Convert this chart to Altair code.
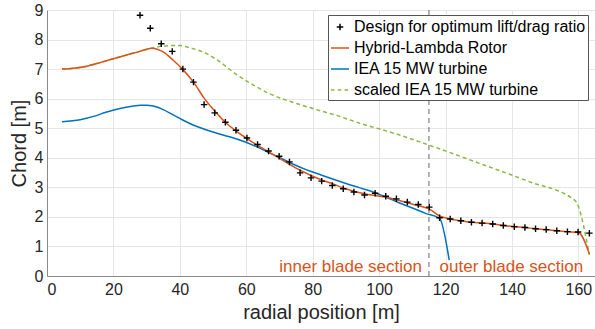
import altair as alt
import pandas as pd

FONT = "Liberation Sans"

# ---- series names / colours ----
series_names = [
    "Design for optimum lift/drag ratio",
    "Hybrid-Lambda Rotor",
    "IEA 15 MW turbine",
    "scaled IEA 15 MW turbine",
]
series_colors = ["#000000", "#D95319", "#0072BD", "#8DB843"]
series_shapes = [
    "M-0.36,0H0.36M0,-0.36V0.36",
    "M-1,0H1",
    "M-1,0H1",
    "M-1,0H-0.6M-0.25,0H0.15M0.5,0H0.9",
]

# ---- design points (crosses) ----
points_x = [28.0, 31.1, 34.4, 37.7, 40.9, 44.1, 47.3, 50.5, 53.7, 56.9, 60.2, 63.4, 66.7,
            69.9, 73.0, 76.2, 79.5, 82.7, 85.9, 89.2, 92.4, 95.6, 98.8, 102.0, 105.2,
            108.5, 111.8, 115.1, 118.2, 121.4, 124.6, 127.8, 131.0, 134.2, 137.4, 140.7,
            143.9, 147.1, 150.3, 153.5, 156.7, 159.9, 163.3]
points_y = [8.82, 8.38, 7.86, 7.6, 7.0, 6.56, 5.8, 5.52, 5.2, 4.93, 4.67, 4.45, 4.23,
            4.05, 3.86, 3.49, 3.32, 3.21, 3.06, 2.95, 2.84, 2.74, 2.80, 2.70, 2.61,
            2.5, 2.42, 2.33, 1.97, 1.93, 1.87, 1.82, 1.79, 1.76, 1.71, 1.67,
            1.64, 1.6, 1.57, 1.53, 1.5, 1.49, 1.45]

# ---- Hybrid-Lambda rotor ----
hl_x = [4.5, 8, 12, 16, 20, 24, 28, 31.5, 35, 38, 40.8, 44.1, 47.3, 50.5, 53.7, 57, 60.2,
        63.4, 66.7, 70, 73, 76.2, 79.5, 82.7, 86, 89.2, 92.4, 95.6, 98.8, 102, 105.2,
        108.5, 111.8, 115, 118.2, 121.4, 124.6, 127.8, 131, 134.2, 137.4, 140.7, 143.9,
        147.1, 150.3, 153.5, 156.7, 160, 163.3]
hl_y = [7.0, 7.03, 7.1, 7.22, 7.35, 7.48, 7.6, 7.71, 7.58, 7.3, 7.0, 6.56, 6.02, 5.58,
        5.2, 4.9, 4.65, 4.42, 4.2, 3.98, 3.78, 3.58, 3.4, 3.25, 3.12, 2.98, 2.87, 2.78,
        2.72, 2.67, 2.58, 2.48, 2.38, 2.27, 2.03, 1.93, 1.87, 1.82, 1.79, 1.76, 1.71,
        1.67, 1.64, 1.6, 1.57, 1.53, 1.5, 1.47, 0.75]

# ---- IEA 15 MW turbine ----
iea_x = [4.5, 10, 14, 18, 22, 26, 28, 30, 32, 35, 38, 41, 44, 47, 50, 54, 58, 62, 66, 70,
         74, 78, 82, 86, 90, 94, 98, 102, 106, 110, 114, 118.2, 121.1]
iea_y = [5.22, 5.29, 5.4, 5.55, 5.67, 5.75, 5.78, 5.78, 5.75, 5.63, 5.45, 5.27, 5.11,
         4.98, 4.87, 4.74, 4.6, 4.43, 4.22, 4.01, 3.79, 3.6, 3.44, 3.28, 3.13, 2.99,
         2.85, 2.67, 2.48, 2.3, 2.12, 1.95, 0.54]

# ---- scaled IEA 15 MW turbine ----
sc_x = [4.5, 8, 12, 16, 20, 24, 28, 31.5, 35, 38, 40, 43, 47, 52, 57, 62, 67, 72, 77, 82,
        87, 92, 97, 100, 115, 130, 145, 159, 163.3]
sc_y = [7.0, 7.03, 7.1, 7.22, 7.35, 7.48, 7.6, 7.71, 7.78, 7.8, 7.8, 7.72, 7.58, 7.25,
        6.82, 6.47, 6.17, 5.95, 5.77, 5.6, 5.44, 5.25, 5.07, 4.98, 4.43, 3.82, 3.2,
        2.55, 0.71]

# ---- section divider / annotations ----
divider_x = [115]
ann_inner = {"x": [112.9], "y": [0.12], "label": ["inner blade section"]}
ann_outer = {"x": [118.2], "y": [0.12], "label": ["outer blade section"]}

x_ticks = [0, 20, 40, 60, 80, 100, 120, 140, 160]
y_ticks = [0, 1, 2, 3, 4, 5, 6, 7, 8, 9]

xs = alt.Scale(domain=[0, 165], nice=False, zero=False)
ys = alt.Scale(domain=[0, 9], nice=False)
xax = alt.Axis(values=x_ticks, title="radial position [m]", titlePadding=5, labelPadding=5)
yax = alt.Axis(values=y_ticks, title="Chord [m]", titlePadding=5, labelPadding=4)


def enc_xy():
    return dict(x=alt.X("x:Q", scale=xs, axis=xax), y=alt.Y("y:Q", scale=ys, axis=yax))


def line_layer(xv, yv, color, dash=None):
    df = pd.DataFrame({"x": xv, "y": yv, "o": list(range(len(xv)))})
    kw = dict(color=color, strokeWidth=1.5, interpolate="monotone")
    if dash:
        kw["strokeDash"] = dash
    return alt.Chart(df).mark_line(**kw).encode(order="o:Q", **enc_xy())


rule = alt.Chart(pd.DataFrame({"x": divider_x})).mark_rule(
    color="#666666", strokeDash=[5, 4], strokeWidth=1
).encode(x=alt.X("x:Q", scale=xs, axis=xax))

txt_inner = alt.Chart(pd.DataFrame(ann_inner)).mark_text(
    align="right", baseline="alphabetic", font=FONT, fontSize=17, color="#D95319"
).encode(text="label:N", **enc_xy())
txt_outer = alt.Chart(pd.DataFrame(ann_outer)).mark_text(
    align="left", baseline="alphabetic", font=FONT, fontSize=17, color="#D95319"
).encode(text="label:N", **enc_xy())

legend = alt.Legend(
    title=None, orient="none", legendX=281, legendY=5,
    labelFont=FONT, labelFontSize=16, labelColor="#000000", labelLimit=400,
    labelOffset=4, symbolSize=324, symbolStrokeWidth=1.5, symbolType="stroke",
    padding=2, rowPadding=3, strokeColor="#555555", fillColor="#ffffff",
)

pts_df = pd.DataFrame({"x": points_x, "y": points_y, "series": [series_names[0]] * len(points_x)})
pts = alt.Chart(pts_df).mark_point(filled=False, opacity=1, size=324, strokeWidth=1.4).encode(
    color=alt.Color("series:N", scale=alt.Scale(domain=series_names, range=series_colors), legend=legend),
    shape=alt.Shape("series:N", scale=alt.Scale(domain=series_names, range=series_shapes), legend=legend),
    **enc_xy(),
)

chart = alt.layer(
    rule,
    line_layer(iea_x, iea_y, series_colors[2]),
    line_layer(sc_x, sc_y, series_colors[3], dash=[4, 3]),
    line_layer(hl_x, hl_y, series_colors[1]),
    pts,
    txt_inner,
    txt_outer,
).properties(
    width=548, height=266,
    autosize=alt.AutoSizeParams(type="none"),
    padding={"left": 47, "top": 10, "right": 0, "bottom": 53},
    background="white",
).configure_view(stroke=None).configure_axis(
    labelFont=FONT, labelFontSize=16, labelColor="#262626",
    titleFont=FONT, titleFontSize=20, titleFontWeight="normal", titleColor="#262626",
    gridColor="#e6e6e6", domainColor="#8a8a8a", ticks=False,
)

chart.save("out.html", embed_options={"renderer": "svg", "actions": False})
